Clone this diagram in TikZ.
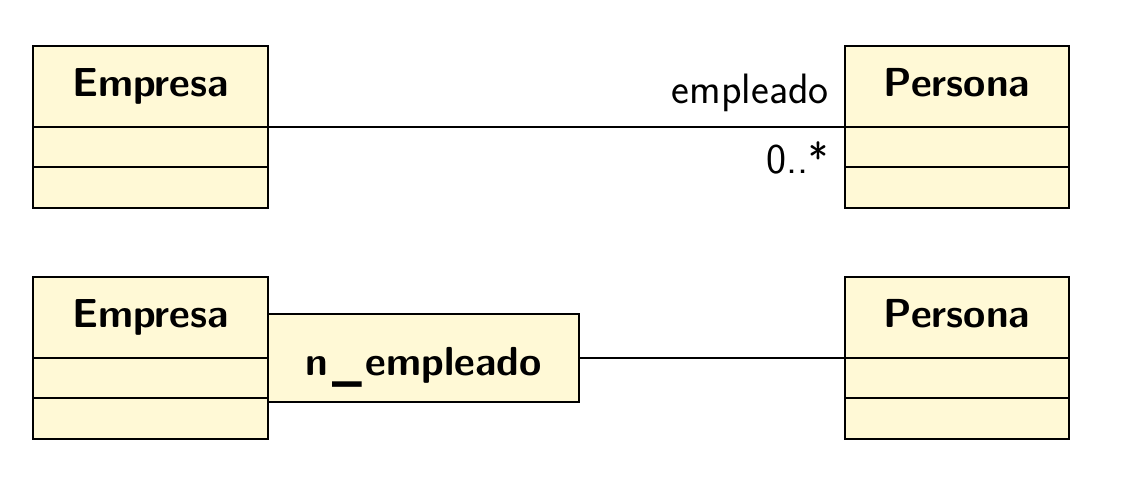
\documentclass[tikz,border=0pt]{standalone}
\usepackage{fontspec}
\usetikzlibrary{positioning}
\definecolor{umlfill}{RGB}{255,249,214}
\tikzset{
  classbox/.style={draw, line width=1.2pt, fill=umlfill, minimum height=162pt, inner sep=0pt},
  assocbox/.style={draw, line width=1.2pt, fill=umlfill, minimum width=311pt, minimum height=88pt, inner sep=0pt},
  classname/.style={font=\fontsize{40.5}{42}\selectfont\sffamily\bfseries, anchor=base, inner sep=0pt},
  rolelabel/.style={font=\fontsize{42.5}{44}\selectfont\sffamily, anchor=base east, inner sep=0pt}
}
\begin{document}
\begin{tikzpicture}[x=1pt,y=1pt]
\useasboundingbox (0,0) rectangle (1144,-490);

\node[classbox, minimum width=235pt] (empA) at (150.5,-127) {};
\node[classbox, minimum width=224pt] (perA) at (957,-127) {};
\node[classbox, minimum width=235pt] (empB) at (150.5,-358) {};
\node[classbox, minimum width=224pt] (perB) at (957,-358) {};

\draw[line width=1.2pt] (empA.west) -- (empA.east);
\draw[line width=1.2pt] ([yshift=-40pt]empA.west) -- ([yshift=-40pt]empA.east);
\draw[line width=1.2pt] (perA.west) -- (perA.east);
\draw[line width=1.2pt] ([yshift=-40pt]perA.west) -- ([yshift=-40pt]perA.east);
\draw[line width=1.2pt] (empB.west) -- (empB.east);
\draw[line width=1.2pt] ([yshift=-40pt]empB.west) -- ([yshift=-40pt]empB.east);
\draw[line width=1.2pt] (perB.west) -- (perB.east);
\draw[line width=1.2pt] ([yshift=-40pt]perB.west) -- ([yshift=-40pt]perB.east);

\node[classname] (empAname) at (150.5,-96) {Empresa};
\node[classname] (perAname) at (957,-96) {Persona};
\node[classname] (empBname) at (150.5,-327) {Empresa};
\node[classname] (perBname) at (957,-327) {Persona};

\node[assocbox] (asoc) at (423.5,-358) {};
\node[classname] (asocname) at (423.5,-375) {n\kern4pt\raisebox{-4pt}{\_}\kern4pt empleado};

\draw[line width=1.2pt] (empA.east) -- (perA.west);
\draw[line width=1.2pt] (asoc.east) -- (perB.west);

\node[rolelabel] (rol) at (829,-103) {empleado};
\node[rolelabel] (mult) at (829,-173) {0..*};
\end{tikzpicture}
\end{document}
